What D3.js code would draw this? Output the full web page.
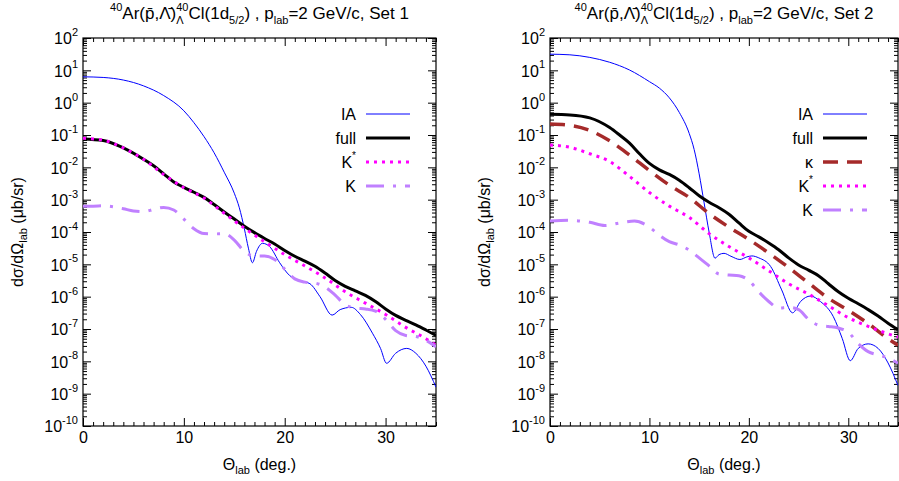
<!DOCTYPE html>
<html>
<head>
<meta charset="utf-8">
<script src="https://cdn.jsdelivr.net/npm/d3@7"></script>
<style>
  body { margin: 0; background: #fff; }
  text { font-family: "Liberation Sans", Arial, Helvetica, sans-serif; fill: #000; }
</style>
</head>
<body>
<svg id="chart" width="899" height="481"></svg>
<script>
// Angular distributions: [Θ_lab (deg), log10 dσ/dΩ (μb/sr)]
const set1IA = [[0,0.80],[2,0.78],[4,0.70],[6,0.52],[8,0.22],[10,-0.25],[11,-0.62],[12,-1.05],[13,-1.55],[14,-2.15],[15,-2.80],[15.5,-3.25],[16,-3.9],[16.4,-4.5],[16.8,-4.95],[17.2,-4.6],[17.8,-4.35],[18.5,-4.45],[19.5,-4.95],[20.5,-5.35],[21.5,-5.5],[22.5,-5.6],[23.5,-6.0],[24.7,-6.57],[25.5,-6.4],[26.6,-6.33],[27.5,-6.55],[28.7,-7.13],[29.5,-7.6],[30.1,-8.06],[31,-7.75],[32.1,-7.6],[33,-7.75],[34,-8.15],[35,-8.8]];
const set1Full = [[0,-1.12],[2,-1.17],[4,-1.4],[6,-1.75],[7,-1.95],[8,-2.2],[9,-2.45],[10,-2.62],[11,-2.77],[12,-2.93],[13,-3.15],[14,-3.38],[15,-3.6],[16,-3.82],[17,-4.02],[18,-4.2],[19,-4.37],[20,-4.57],[21,-4.75],[22,-4.9],[23,-5.06],[24,-5.27],[25,-5.5],[26,-5.68],[27,-5.82],[28,-5.96],[29,-6.15],[30,-6.38],[31,-6.58],[32,-6.73],[33,-6.87],[34,-7.03],[35,-7.2]];
const set1KStar = [[0,-1.1],[2,-1.16],[4,-1.4],[6,-1.75],[8,-2.22],[10,-2.63],[12,-2.95],[14,-3.42],[16,-3.88],[18,-4.3],[20,-4.7],[22,-5.05],[24,-5.42],[26,-5.85],[28,-6.2],[30,-6.55],[32,-6.95],[34,-7.3],[35,-7.5]];
const set1K = [[0,-3.2],[1,-3.2],[2,-3.19],[3,-3.22],[4,-3.28],[5,-3.35],[6,-3.37],[7,-3.3],[8,-3.24],[9,-3.32],[10,-3.6],[11,-3.9],[12,-4.05],[13,-4.06],[14,-4.05],[15,-4.25],[16,-4.6],[17,-4.74],[18,-4.74],[19,-4.85],[20,-5.15],[21,-5.45],[22,-5.55],[23,-5.58],[24,-5.7],[25,-5.95],[26,-6.25],[27,-6.35],[28,-6.38],[29,-6.45],[30,-6.7],[31,-7.05],[32,-7.2],[33,-7.23],[34,-7.35],[35,-7.55]];

const set2IA = [[0,1.50],[2,1.48],[4,1.40],[6,1.25],[8,1.01],[10,0.65],[11,0.45],[12,0.15],[13,-0.3],[14,-0.95],[14.5,-1.45],[15,-2.2],[15.5,-3.1],[16,-4.0],[16.6,-4.81],[17.0,-4.7],[17.5,-4.66],[18.2,-4.75],[19.1,-4.85],[19.8,-4.77],[20.3,-4.74],[21,-4.8],[22.2,-5.07],[23.3,-5.79],[24.4,-6.5],[25.2,-6.15],[26.2,-5.98],[27.2,-6.15],[28.5,-6.62],[29.4,-7.3],[30.2,-7.98],[31,-7.6],[32,-7.46],[33,-7.6],[34,-8.05],[35,-8.75]];
const set2Full = [[0,-0.36],[2,-0.38],[4,-0.47],[6,-0.77],[7,-1.0],[8,-1.25],[9,-1.58],[10,-1.88],[11,-2.08],[12,-2.22],[13,-2.4],[14,-2.63],[15,-2.88],[16,-3.08],[17,-3.25],[18,-3.45],[19,-3.72],[20,-3.98],[21,-4.15],[22,-4.34],[23,-4.55],[24,-4.8],[25,-5.02],[26,-5.18],[27,-5.35],[28,-5.6],[29,-5.85],[30,-6.05],[31,-6.22],[32,-6.4],[33,-6.6],[34,-6.82],[35,-7.02]];
const set2Kappa = [[0,-0.66],[2,-0.7],[4,-0.86],[6,-1.18],[8,-1.62],[10,-2.1],[12,-2.55],[14,-2.93],[16,-3.43],[18,-3.85],[20,-4.23],[22,-4.65],[24,-5.1],[26,-5.58],[28,-6.05],[30,-6.42],[32,-6.83],[34,-7.3],[35,-7.5]];
const set2KStar = [[0,-1.31],[2,-1.38],[4,-1.58],[6,-1.82],[8,-2.28],[10,-2.78],[12,-3.2],[14,-3.55],[16,-4.05],[18,-4.45],[20,-4.8],[22,-5.2],[24,-5.6],[26,-5.92],[28,-6.28],[30,-6.65],[32,-6.92],[34,-7.15],[35,-7.25]];
const set2K = [[0,-3.66],[2,-3.64],[4,-3.7],[5.5,-3.8],[7,-3.72],[8.5,-3.66],[10,-3.85],[11,-4.1],[12,-4.3],[13,-4.4],[14,-4.56],[15,-4.8],[16,-5.05],[17,-5.3],[18,-5.33],[19,-5.35],[20,-5.5],[21,-5.85],[22,-6.15],[23,-6.35],[24,-6.33],[25,-6.4],[26,-6.7],[27,-6.88],[28,-6.92],[29,-6.97],[30,-7.1],[31,-7.45],[32,-7.7],[33,-7.8],[34,-7.9],[35,-8.06]];

// Axis ranges and tick values
const xDomain = [0, 35];
const yDomain = [1e-10, 1e2];
const xMajorTicks = [0, 10, 20, 30];
const yExponents = d3.range(-10, 3);

// Line styles per component
const styles = {
  IA:    { label: "IA",   color: "#0000ff", width: 1,   dash: null },
  full:  { label: "full", color: "#000000", width: 3,   dash: null },
  kappa: { label: "κ",    color: "#a52a2a", width: 3.5, dash: "15,9" },
  kstar: { label: "K*",   color: "#ff00ff", width: 3,   dash: "3,5" },
  k:     { label: "K",    color: "#c080ff", width: 3,   dash: "18,9,3,9" }
};

const panels = [
  { left: 83, right: 436, setName: "Set 1",
    series: [["IA", set1IA], ["full", set1Full], ["kstar", set1KStar], ["k", set1K]],
    legendX: 356 },
  { left: 550, right: 898, setName: "Set 2",
    series: [["IA", set2IA], ["full", set2Full], ["kappa", set2Kappa], ["kstar", set2KStar], ["k", set2K]],
    legendX: 813 }
];
const plotTop = 38, plotBottom = 426;

const svg = d3.select("#chart");

// Measures text width for building composite labels
const meas = svg.append("text").attr("visibility", "hidden");
function textWidth(str, size) {
  meas.attr("font-size", size).text(str);
  return meas.node().getComputedTextLength();
}

// Title with stacked super/subscripts, built piece by piece
function drawTitle(cx, y, setName) {
  const big = 17, small = 11;
  const pieces = [
    { t: "40", s: small, dy: -8 },
    { t: "Ar(p\u0304,\u039B\u0304)", s: big, dy: 0 },
    { t: "40", s: small, dy: -8, stackBase: true },
    { t: "\u039B", s: small, dy: 5, stacked: true },
    { t: "Cl(1d", s: big, dy: 0 },
    { t: "5/2", s: small, dy: 5 },
    { t: ") , p", s: big, dy: 0 },
    { t: "lab", s: small, dy: 5 },
    { t: "=2 GeV/c, " + setName, s: big, dy: 0 }
  ];
  let x = 0, stackX = 0, stackW = 0;
  const placed = [];
  pieces.forEach(p => {
    const w = textWidth(p.t, p.s);
    if (p.stacked) {
      placed.push({ ...p, x: stackX });
      x = stackX + Math.max(stackW, w);
    } else {
      if (p.stackBase) { stackX = x; stackW = w; }
      placed.push({ ...p, x });
      x += w;
    }
  });
  const g = svg.append("g").attr("transform", `translate(${cx - x / 2},${y})`);
  placed.forEach(p => {
    g.append("text").attr("x", p.x).attr("y", p.dy).attr("font-size", p.s).text(p.t);
  });
}

panels.forEach(p => {
  const x = d3.scaleLinear().domain(xDomain).range([p.left, p.right]);
  const y = d3.scaleLog().domain(yDomain).range([plotBottom, plotTop]);
  const g = svg.append("g");

  const xMinor = d3.range(0, 36).filter(v => !xMajorTicks.includes(v));
  const yMajor = yExponents.map(k => Math.pow(10, k));
  const yMinor = [];
  yExponents.slice(0, -1).forEach(k => { for (let m = 2; m <= 9; m++) yMinor.push(m * Math.pow(10, k)); });

  // bottom axis with labels
  const bAx = g.append("g").attr("transform", `translate(0,${plotBottom})`)
    .call(d3.axisBottom(x).tickValues(xMajorTicks).tickSize(-8).tickPadding(6).tickFormat(d3.format("d")));
  bAx.selectAll("text").attr("font-size", 16);
  bAx.attr("font-family", null).attr("font-size", null);
  g.append("g").attr("transform", `translate(0,${plotBottom})`)
    .call(d3.axisBottom(x).tickValues(xMinor).tickSize(-4).tickFormat(""));
  // top mirror
  g.append("g").attr("transform", `translate(0,${plotTop})`)
    .call(d3.axisTop(x).tickValues(xMajorTicks).tickSize(-8).tickFormat(""));
  g.append("g").attr("transform", `translate(0,${plotTop})`)
    .call(d3.axisTop(x).tickValues(xMinor).tickSize(-4).tickFormat(""));
  // left axis
  const lAx = g.append("g").attr("transform", `translate(${p.left},0)`)
    .call(d3.axisLeft(y).tickValues(yMajor).tickSize(-8).tickPadding(5).tickFormat(""));
  lAx.attr("font-family", null).attr("font-size", null);
  lAx.selectAll(".tick text").each(function(d) {
    const t = d3.select(this).attr("font-size", 16).attr("dy", "0.36em").text("10");
    t.append("tspan").attr("font-size", 11).attr("dy", "-0.75em").text(String(Math.round(Math.log10(d))));
  });
  g.append("g").attr("transform", `translate(${p.left},0)`)
    .call(d3.axisLeft(y).tickValues(yMinor).tickSize(-4).tickFormat(""));
  // right mirror
  g.append("g").attr("transform", `translate(${p.right},0)`)
    .call(d3.axisRight(y).tickValues(yMajor).tickSize(-8).tickFormat(""));
  g.append("g").attr("transform", `translate(${p.right},0)`)
    .call(d3.axisRight(y).tickValues(yMinor).tickSize(-4).tickFormat(""));
  g.selectAll(".domain").remove();
  g.selectAll(".tick line").attr("stroke", "#000").attr("stroke-width", 1);

  // frame
  g.append("rect").attr("x", p.left).attr("y", plotTop)
    .attr("width", p.right - p.left).attr("height", plotBottom - plotTop)
    .attr("fill", "none").attr("stroke", "#000").attr("stroke-width", 1.2);

  // curves
  const clipId = "clip" + p.setName.replace(" ", "");
  svg.append("clipPath").attr("id", clipId).append("rect")
    .attr("x", p.left).attr("y", plotTop).attr("width", p.right - p.left).attr("height", plotBottom - plotTop);
  const line = d3.line().x(d => x(d[0])).y(d => y(Math.pow(10, d[1]))).curve(d3.curveMonotoneX);
  const curves = g.append("g").attr("clip-path", `url(#${clipId})`);
  // drawn in legend order, so later components sit on top
  p.series.forEach(([key, data]) => {
    const st = styles[key];
    curves.append("path").datum(data).attr("d", line)
      .attr("fill", "none").attr("stroke", st.color).attr("stroke-width", st.width)
      .attr("stroke-dasharray", st.dash);
  });

  // legend
  p.series.forEach((e, i) => {
    const st = styles[e[0]];
    const ly = 114 + i * 24;
    const lt = g.append("text").attr("x", p.legendX).attr("y", ly).attr("dy", "0.36em")
      .attr("text-anchor", "end").attr("font-size", 16);
    if (e[0] === "kstar") {
      lt.text("K");
      lt.append("tspan").attr("font-size", 10).attr("dy", "-0.9em").text("*");
    } else {
      lt.text(st.label);
    }
    g.append("line").attr("x1", p.legendX + 10).attr("x2", p.legendX + 54)
      .attr("y1", ly).attr("y2", ly)
      .attr("stroke", st.color).attr("stroke-width", st.width).attr("stroke-dasharray", st.dash);
  });

  // titles and axis labels
  const cx = (p.left + p.right) / 2;
  drawTitle(cx, 19, p.setName);

  const xl = g.append("text").attr("x", cx).attr("y", 470).attr("text-anchor", "middle").attr("font-size", 16);
  xl.append("tspan").text("Θ");
  xl.append("tspan").attr("font-size", 11).attr("dy", 4).text("lab");
  xl.append("tspan").attr("dy", -4).text(" (deg.)");

  const yl = g.append("text")
    .attr("transform", `translate(${p.left - 60},${(plotTop + plotBottom) / 2}) rotate(-90)`)
    .attr("text-anchor", "middle").attr("font-size", 16);
  yl.append("tspan").text("dσ/dΩ");
  yl.append("tspan").attr("font-size", 11).attr("dy", 4).text("lab");
  yl.append("tspan").attr("dy", -4).text(" (μb/sr)");
});
meas.remove();
</script>
</body>
</html>
